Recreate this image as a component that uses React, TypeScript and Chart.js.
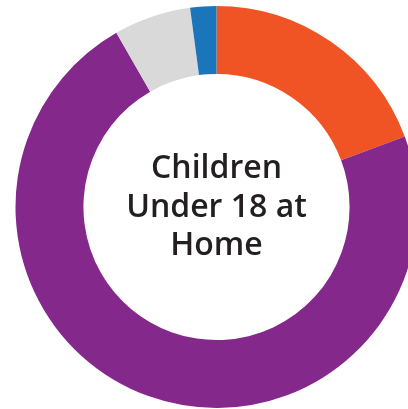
import React, { useEffect, useRef } from "react";
import { Chart, registerables } from "chart.js";

Chart.register(...registerables);

const categories = ["Yes", "No", "Other", "Unknown"];
const values = [19.3, 72.4, 6.2, 2.1];
const colors = ["#F05424", "#85288C", "#D9D9D9", "#1B75BB"];
const centerLines = ["Children", "Under 18 at", "Home"];

const centerTextPlugin = {
  id: "centerText",
  afterDraw(chart: any) {
    const meta = chart.getDatasetMeta(0);
    const arc = meta.data[0];
    if (!arc) return;
    const { x, y } = arc;
    const ctx = chart.ctx;
    ctx.save();
    ctx.fillStyle = "#231F20";
    ctx.font = "600 32px 'Open Sans'";
    ctx.textAlign = "center";
    ctx.textBaseline = "alphabetic";
    const lh = 38.5;
    const baseFirst = y - 29;
    centerLines.forEach((t, i) => ctx.fillText(t, x, baseFirst + i * lh));
    ctx.restore();
  },
};

export default function App() {
  const ref = useRef<HTMLCanvasElement>(null);
  useEffect(() => {
    if (!ref.current) return;
    const chart = new Chart(ref.current, {
      type: "doughnut",
      data: {
        labels: categories,
        datasets: [
          {
            data: values,
            backgroundColor: colors,
            borderWidth: 0,
            radius: 201,
            cutout: "66.2%",
          } as any,
        ],
      },
      options: {
        responsive: false,
        animation: false,
        layout: { padding: 0 },
        plugins: { legend: { display: false }, tooltip: { enabled: false } },
      },
      plugins: [centerTextPlugin],
    });
    return () => chart.destroy();
  }, []);
  return (
    <div style={{ position: "fixed", left: 0, top: 0, width: 433, height: 414, background: "#fff" }}>
      <canvas ref={ref} width={433} height={414} style={{ width: 433, height: 414 }} />
    </div>
  );
}
